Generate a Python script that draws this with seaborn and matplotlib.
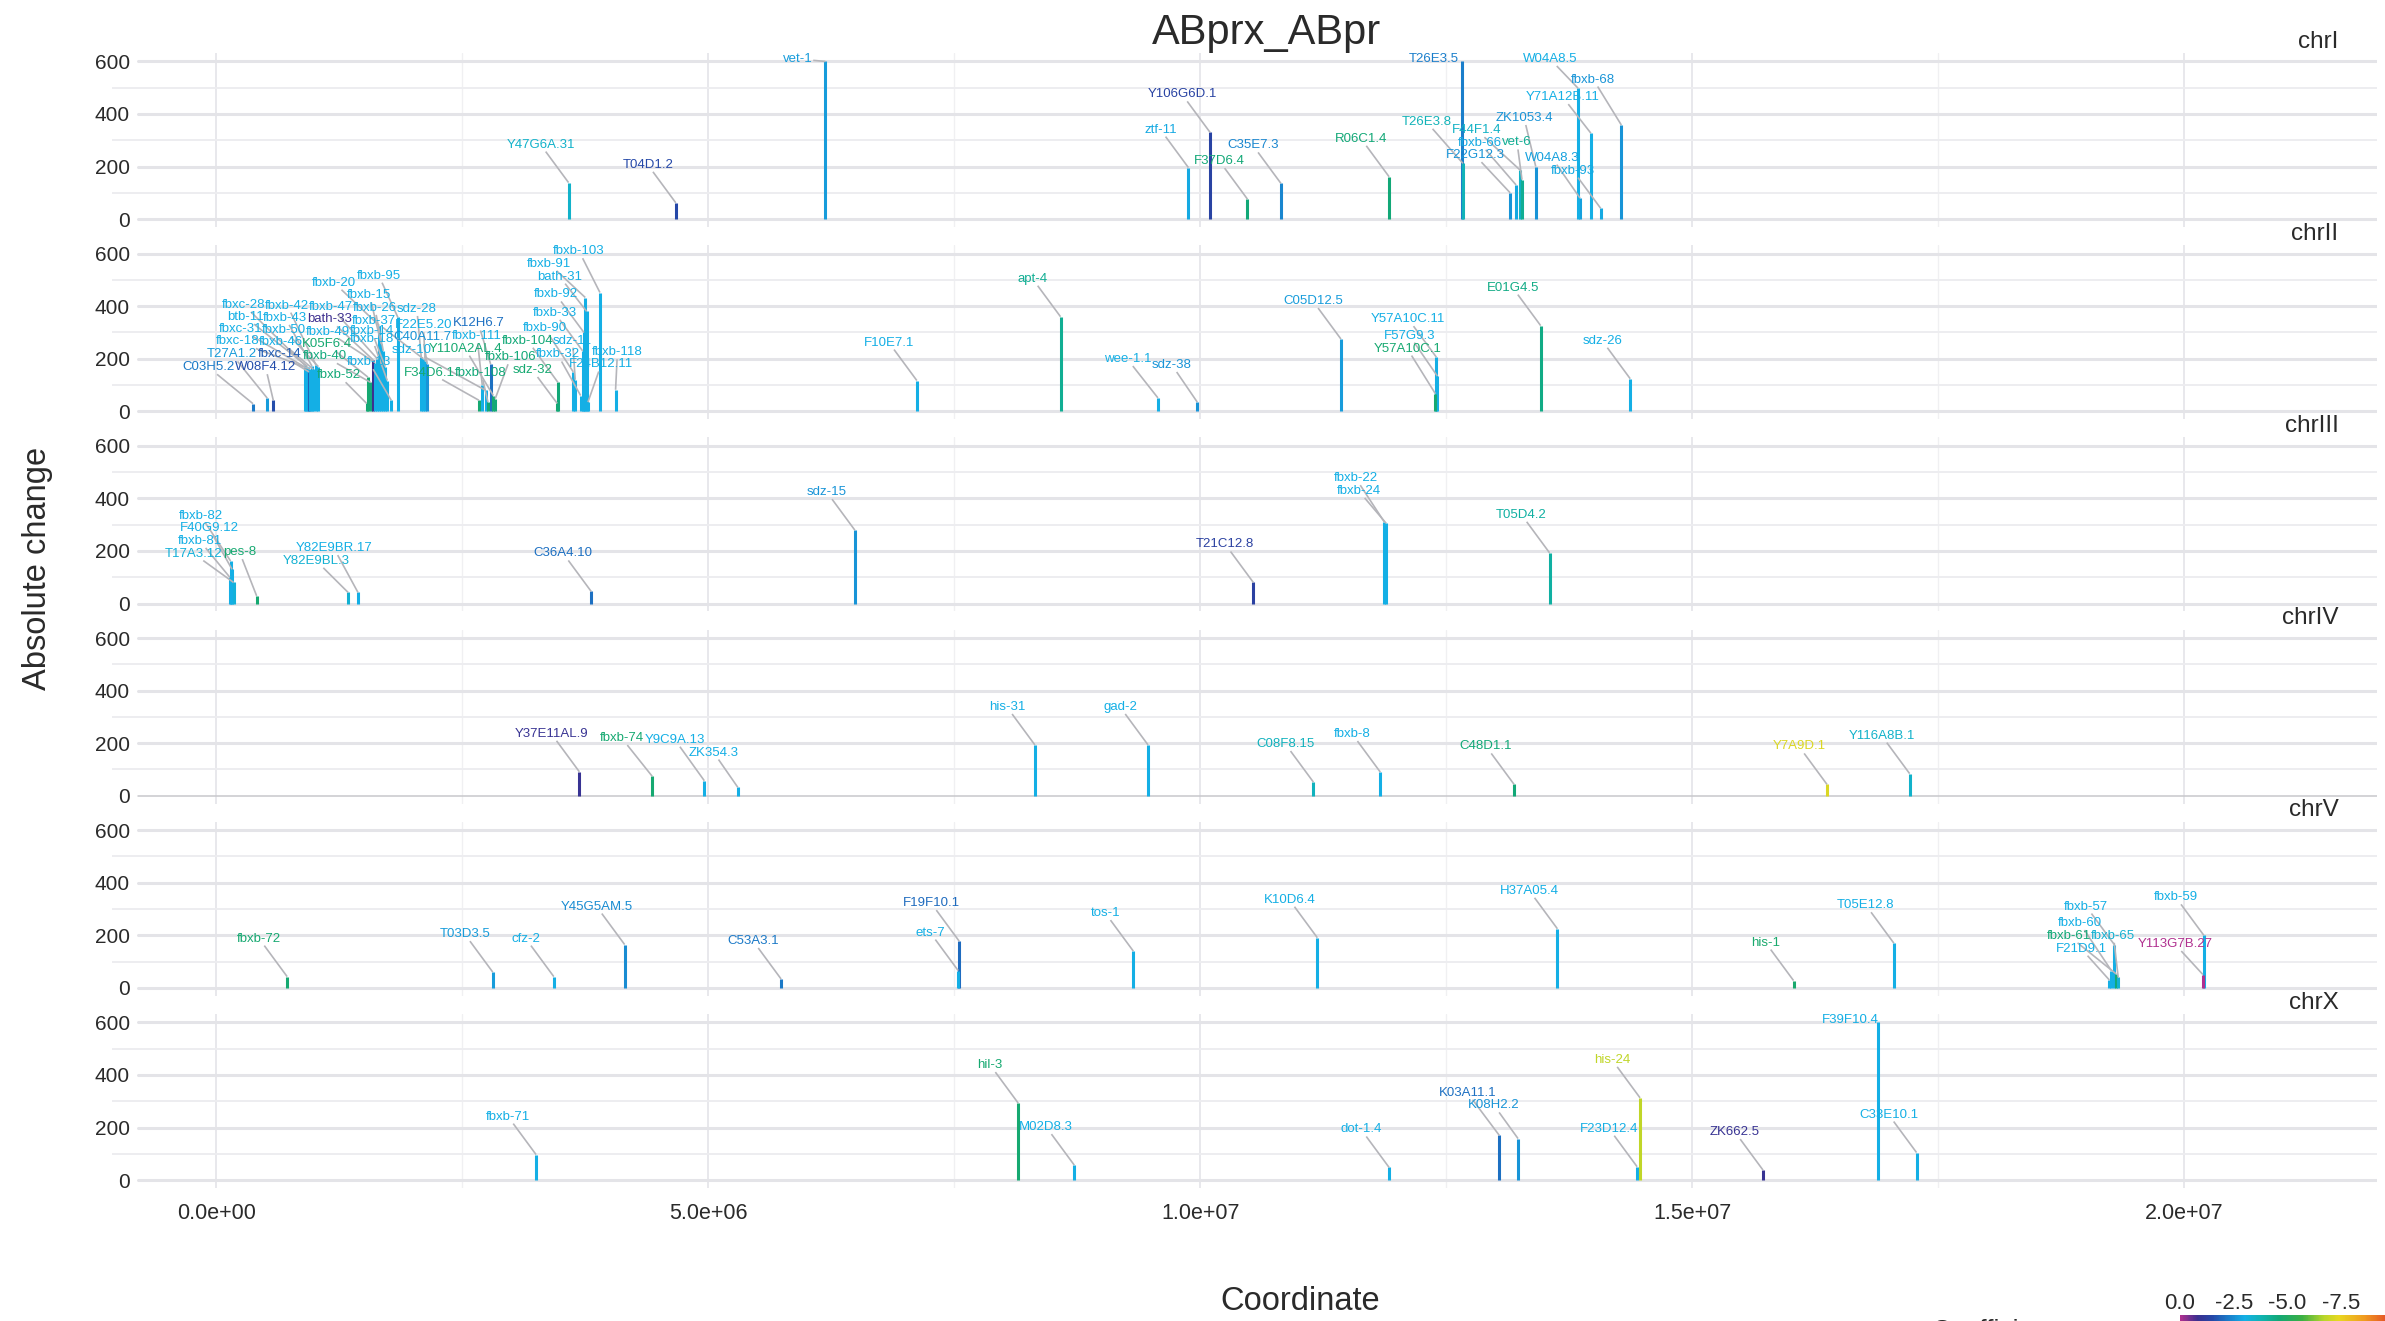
import numpy as np
import pandas as pd
import matplotlib
matplotlib.use("Agg")
import matplotlib.pyplot as plt
import seaborn as sns
from matplotlib.colors import LinearSegmentedColormap, Normalize
from matplotlib.cm import ScalarMappable

sns.set_theme(style="white")
plt.rcParams["font.family"] = ["Liberation Sans", "DejaVu Sans"]
plt.rcParams["axes.unicode_minus"] = False

chromosomes = ["chrI", "chrII", "chrIII", "chrIV", "chrV", "chrX"]

# ---- data (coordinate in Mb, absolute change, coefficient) ----
chrI_gene = ["Y47G6A.31", "T04D1.2", "vet-1", "ztf-11", "Y106G6D.1", "F37D6.4", "C35E7.3",
             "R06C1.4", "T26E3.5", "T26E3.8", "F22G12.3", "fbxb-66", "F44F1.4", "vet-6",
             "ZK1053.4", "W04A8.3", "W04A8.5", "Y71A12B.11", "fbxb-93", "fbxb-68"]
chrI_pos = [3.58, 4.67, 6.19, 9.88, 10.10, 10.48, 10.82, 11.92, 12.66, 12.67, 13.15, 13.21,
            13.25, 13.27, 13.41, 13.86, 13.84, 13.97, 14.07, 14.28]
chrI_change = [139, 62, 600, 196, 330, 76, 136, 161, 600, 212, 100, 130, 187, 150, 200, 80,
               498, 327, 41, 358]
chrI_coef = [-3.4, -1.5, -2.7, -2.9, -1.4, -4.6, -2.4, -4.6, -2.3, -3.7, -2.6, -2.9, -3.5,
             -4.2, -2.6, -2.8, -3.0, -3.0, -2.9, -2.6]

chrII_gene = ["C03H5.2", "T27A1.2", "W08F4.12", "fbxc-28", "fbxc-31", "btb-11", "fbxc-14",
              "fbxc-18", "fbxb-43", "fbxb-46", "fbxb-42", "fbxb-50", "fbxb-52", "K05F6.4",
              "fbxb-40", "bath-33", "fbxb-49", "fbxb-47", "fbxb-20", "fbxb-15", "fbxb-26",
              "fbxb-14", "fbxb-18", "fbxb-13", "fbxb-95", "sdz-28", "fbxb-37", "F22E5.20",
              "C40A11.7", "F34D6.1", "fbxb-111", "sdz-10", "fbxb-108", "K12H6.7",
              "Y110A2AL.4", "fbxb-106", "sdz-32", "fbxb-104", "fbxb-90", "sdz-11", "fbxb-32",
              "fbxb-33", "fbxb-92", "fbxb-91", "bath-31", "F24B12.11", "fbxb-103", "fbxb-118",
              "F10E7.1", "apt-4", "wee-1.1", "sdz-38", "C05D12.5", "Y57A10C.11", "F57G9.3",
              "Y57A10C.1", "E01G4.5", "sdz-26"]
chrII_pos = [0.373, 0.518, 0.579, 0.901, 0.915, 0.928, 0.942, 0.955, 0.972, 0.986, 1.013,
             1.037, 1.528, 1.541, 1.568, 1.596, 1.616, 1.636, 1.657, 1.677, 1.697, 1.717,
             1.738, 1.778, 1.846, 2.083, 2.104, 2.124, 2.144, 2.669, 2.703, 2.737, 2.761,
             2.788, 2.815, 2.835, 3.465, 3.472, 3.628, 3.648, 3.703, 3.723, 3.736, 3.750,
             3.764, 3.777, 3.899, 4.058, 7.12, 8.58, 9.57, 9.97, 11.43, 12.40, 12.41, 12.39,
             13.46, 14.37]
chrII_change = [29, 50, 42, 175, 165, 170, 150, 160, 172, 160, 176, 170, 30, 130, 110, 195,
                185, 200, 326, 256, 230, 170, 117, 42, 357, 206, 200, 190, 180, 42, 100, 80,
                35, 180, 60, 48, 30, 110, 150, 120, 60, 230, 300, 433, 380, 35, 452, 82, 117,
                360, 51, 35, 275, 206, 134, 67, 326, 124]
chrII_coef = [-2.2, -2.7, -1.6, -3.0, -3.0, -3.0, -1.8, -3.0, -3.0, -3.0, -3.0, -3.0, -4.6,
              -4.7, -4.5, -0.8, -3.0, -3.0, -3.0, -3.0, -3.0, -3.0, -3.0, -3.0, -3.0, -3.0,
              -3.0, -3.0, -2.6, -4.7, -3.0, -3.0, -4.6, -2.1, -4.7, -4.6, -4.7, -4.6, -3.0,
              -3.0, -3.0, -3.0, -3.0, -3.0, -3.0, -3.0, -3.0, -3.0, -3.0, -4.2, -3.0, -2.6,
              -2.7, -3.0, -3.0, -4.7, -4.4, -3.0]

chrIII_gene = ["fbxb-81", "fbxb-82", "F40G9.12", "T17A3.12", "pes-8", "Y82E9BL.3",
               "Y82E9BR.17", "C36A4.10", "sdz-15", "T21C12.8", "fbxb-22", "fbxb-24", "T05D4.2"]
chrIII_pos = [0.137, 0.145, 0.160, 0.176, 0.41, 1.34, 1.44, 3.81, 6.49, 10.54, 11.87, 11.89,
              13.55]
chrIII_change = [100, 162, 130, 80, 29, 42, 42, 46, 279, 80, 311, 305, 193]
chrIII_coef = [-3.0, -3.0, -3.0, -3.2, -4.7, -3.3, -3.0, -2.1, -2.6, -1.3, -3.0, -3.0, -4.0]

chrIV_gene = ["Y37E11AL.9", "fbxb-74", "Y9C9A.13", "ZK354.3", "his-31", "gad-2", "C08F8.15",
              "fbxb-8", "C48D1.1", "Y7A9D.1", "Y116A8B.1"]
chrIV_pos = [3.69, 4.43, 4.96, 5.30, 8.32, 9.47, 11.15, 11.83, 13.19, 16.37, 17.21]
chrIV_change = [91, 74, 57, 32, 193, 193, 52, 90, 43, 43, 84]
chrIV_coef = [-0.9, -4.7, -3.0, -3.0, -3.0, -3.0, -3.6, -3.0, -4.6, -7.2, -3.4]

chrV_gene = ["fbxb-72", "T03D3.5", "cfz-2", "Y45G5AM.5", "C53A3.1", "F19F10.1", "ets-7",
             "tos-1", "K10D6.4", "H37A05.4", "his-1", "T05E12.8", "F21D9.1", "fbxb-60",
             "fbxb-57", "fbxb-61", "fbxb-65", "fbxb-59", "Y113G7B.27"]
chrV_pos = [0.72, 2.81, 3.43, 4.15, 5.74, 7.55, 7.54, 9.32, 11.19, 13.63, 16.03, 17.05, 19.24,
            19.26, 19.29, 19.31, 19.33, 20.20, 20.19]
chrV_change = [43, 60, 43, 165, 34, 178, 66, 140, 191, 225, 28, 170, 30, 66, 165, 53, 40,
               200, 51]
chrV_coef = [-4.7, -2.7, -3.0, -2.5, -2.2, -2.0, -3.0, -3.0, -3.0, -3.0, -4.8, -3.0, -3.0,
             -3.0, -3.0, -4.6, -3.3, -3.0, 0.0]

chrX_gene = ["fbxb-71", "hil-3", "M02D8.3", "dot-1.4", "K03A11.1", "K08H2.2", "F23D12.4",
             "his-24", "ZK662.5", "F39F10.4", "C33E10.1"]
chrX_pos = [3.25, 8.15, 8.72, 11.92, 13.04, 13.23, 14.44, 14.47, 15.72, 16.89, 17.28]
chrX_change = [97, 293, 57, 48, 170, 158, 51, 313, 38, 600, 105]
chrX_coef = [-3.0, -4.7, -3.0, -3.0, -2.1, -2.6, -3.0, -6.8, -0.9, -3.0, -3.0]

tables = {
    "chrI": (chrI_gene, chrI_pos, chrI_change, chrI_coef),
    "chrII": (chrII_gene, chrII_pos, chrII_change, chrII_coef),
    "chrIII": (chrIII_gene, chrIII_pos, chrIII_change, chrIII_coef),
    "chrIV": (chrIV_gene, chrIV_pos, chrIV_change, chrIV_coef),
    "chrV": (chrV_gene, chrV_pos, chrV_change, chrV_coef),
    "chrX": (chrX_gene, chrX_pos, chrX_change, chrX_coef),
}
frames = []
for chrom, (g_, p_, c_, k_) in tables.items():
    frames.append(pd.DataFrame({"chrom": chrom, "gene": g_, "coord": np.array(p_) * 1e6,
                                "change": c_, "coef": k_}))
df = pd.concat(frames, ignore_index=True)

# colour scale for the coefficient
stop_vals = [-10.0, -8.6, -7.4, -6.7, -5.7, -4.6, -3.8, -3.0, -2.3, -1.5, -0.8, 0.0]
stop_cols = ["#e03a2a", "#f09a20", "#e8d820", "#b8d62a", "#3cb043", "#12a876", "#10b3b0",
             "#14b0e6", "#1a80cc", "#2548a8", "#3b2f8f", "#b0308f"]
norm = Normalize(-10.0, 0.0)
cmap = LinearSegmentedColormap.from_list(
    "coef", [((v + 10.0) / 10.0, c) for v, c in zip(stop_vals, stop_cols)])

label_store = {}


def draw_chrom(data, **kws):
    ax = plt.gca()
    cols = cmap(norm(data["coef"].to_numpy()))
    ax.vlines(data["coord"], 0, data["change"], colors=cols, lw=2.2, zorder=3)
    texts = []
    for gname, x, y, c in zip(data["gene"], data["coord"], data["change"], cols):
        texts.append(ax.text(x, y, gname, color=c, fontsize=9.5, ha="center", va="center",
                             zorder=6))
    label_store[ax] = (data["coord"].to_numpy(), data["change"].to_numpy(), texts)


g = sns.FacetGrid(df, row="chrom", row_order=chromosomes, sharex=True, sharey=True,
                  height=2, aspect=11)
g.map_dataframe(draw_chrom)
g.set_titles(template="")
g.set_axis_labels("", "")

fig = g.figure
fig.set_size_inches(23.85, 13.21)
W, H = 2385.0, 1321.0
for i, (chrom, ax) in enumerate(zip(chromosomes, g.axes.flat)):
    top = 53 + 192.2 * i
    ax.set_position([112 / W, 1 - (top + 174) / H, 2265 / W, 174 / H])
    ax.set_xlim(-1.06e6, 21.96e6)
    ax.set_ylim(-30, 632)
    ax.set_autoscale_on(False)
    for s in ax.spines.values():
        s.set_visible(False)
    ax.grid(False)
    for xv in [2.5e6, 7.5e6, 12.5e6, 17.5e6]:
        ax.axvline(xv, color="#f0f0f2", lw=1.0, zorder=0)
    for xv in [0, 5e6, 1e7, 1.5e7, 2e7]:
        ax.axvline(xv, color="#e8e8ec", lw=1.4, zorder=0)
    for yv in [100, 300, 500]:
        ax.axhline(yv, color="#ededf0", lw=1.4, zorder=0)
    for yv in [0, 200, 400, 600]:
        if chrom == "chrIV" and yv == 0:
            ax.axhline(0, xmin=0.0115, color="#c8c8cc", lw=1.1, zorder=1)
        else:
            ax.axhline(yv, xmin=0.0115, color="#e4e4e8", lw=2.2, zorder=0)
    ax.set_yticks([0, 200, 400, 600])
    ax.set_yticklabels(["0", "200", "400", "600"])
    ax.tick_params(axis="y", length=0, pad=-13, labelsize=15, colors="#2a2a2a")
    ax.set_xticks([0, 5e6, 1e7, 1.5e7, 2e7])
    ax.set_xticklabels(["0.0e+00", "5.0e+06", "1.0e+07", "1.5e+07", "2.0e+07"])
    ax.tick_params(axis="x", length=0, pad=11, labelsize=15.5, colors="#2a2a2a")
    ax.set_facecolor("white")
    ax.text(0.983, 1.066, chrom, transform=ax.transAxes, ha="right", va="center",
            fontsize=17.5, color="#2a2a2a")

fig.text(1267 / W, 1 - 33 / H, "ABprx_ABpr", ha="center", va="center", fontsize=30,
         color="#2a2a2a")
fig.text(1300 / W, 1 - 1302 / H, "Coordinate", ha="center", va="center", fontsize=23.5,
         color="#2a2a2a")
fig.text(38 / W, 1 - 568 / H, "Absolute change", ha="center", va="center", fontsize=23.5,
         rotation=90, color="#2a2a2a")

# colour bar, mostly cut off by the figure edge as in the original
cax = fig.add_axes([2180 / W, (1321 - 1315 - 30) / H, 215 / W, 30 / H])
cbar = fig.colorbar(ScalarMappable(norm=norm, cmap=cmap), cax=cax, orientation="horizontal")
cbar.outline.set_visible(False)
cax.invert_xaxis()
cbar.set_ticks([0.0, -2.5, -5.0, -7.5])
cbar.set_ticklabels(["0.0", "-2.5", "-5.0", "-7.5"])
cax.xaxis.set_ticks_position("top")
cax.tick_params(axis="x", length=0, pad=1, labelsize=16, colors="#2a2a2a")
fig.text(1994 / W, 1 - 1319 / H, "Coefficient", ha="center", va="top", fontsize=19,
         color="#2a2a2a")

# simple label repulsion in pixel space (ggrepel-like)
fig.canvas.draw()
renderer = fig.canvas.get_renderer()


def repel(ax, xs, ys, texts):
    pts = ax.transData.transform(np.column_stack([xs, ys]))
    sizes = np.array([[t.get_window_extent(renderer).width,
                       t.get_window_extent(renderer).height] for t in texts])
    half = sizes / 2.0
    box = ax.get_window_extent(renderer)
    target = pts + np.array([-28.0, 38.0])
    pos = target.copy()
    n = len(pos)
    idx = np.arange(n)
    tie = np.where(idx[:, None] > idx[None, :], 1.0, -1.0)
    same = idx[:, None] == idx[None, :]
    for _ in range(1200):
        dx = pos[:, None, 0] - pos[None, :, 0]
        dy = pos[:, None, 1] - pos[None, :, 1]
        ox = half[:, None, 0] + half[None, :, 0] + 1 - np.abs(dx)
        oy = half[:, None, 1] + half[None, :, 1] + 1 - np.abs(dy)
        hit = (ox > 0) & (oy > 0) & ~same
        dist = np.hypot(dx, dy * 2.5)
        ok = dist > 1e-6
        ux = np.where(ok, dx / np.where(ok, dist, 1), 0.3 * tie)
        uy = np.where(ok, dy * 2.5 / np.where(ok, dist, 1), tie)
        mag = np.minimum(ox, oy)
        mx = np.where(hit, ux * mag, 0).sum(1)
        my = np.where(hit, uy * mag, 0).sum(1)
        px = pos[:, None, 0] - pts[None, :, 0]
        py = pos[:, None, 1] - pts[None, :, 1]
        pox = half[:, None, 0] + 3 - np.abs(px)
        poy = half[:, None, 1] + 3 - np.abs(py)
        phit = (pox > 0) & (poy > 0)
        my += np.where(phit, np.where(py >= 0, 1.0, -1.0) * poy, 0).sum(1)
        pos[:, 0] += 0.2 * mx + 0.008 * (target[:, 0] - pos[:, 0])
        pos[:, 1] += 0.2 * my + 0.008 * (target[:, 1] - pos[:, 1])
        pos[:, 0] = np.clip(pos[:, 0], box.x0 + half[:, 0], box.x1 - half[:, 0])
        pos[:, 1] = np.clip(pos[:, 1], box.y0 + half[:, 1], box.y1 - half[:, 1])
    return pts, pos, half


for ax, (xs, ys, texts) in label_store.items():
    pts, pos, half = repel(ax, xs, ys, texts)
    inv = ax.transData.inverted()
    for t, p, pt, h in zip(texts, pos, pts, half):
        t.set_position(inv.transform(p))
        v = p - pt
        ratios = []
        if abs(v[0]) > 1e-6:
            ratios.append((h[0] + 1) / abs(v[0]))
        if abs(v[1]) > 1e-6:
            ratios.append((h[1] + 1) / abs(v[1]))
        if not ratios:
            continue
        t_enter = 1 - min(ratios)
        if t_enter <= 0:
            continue
        end = pt + t_enter * v
        if np.hypot(*(end - pt)) < 5:
            continue
        seg = inv.transform(np.vstack([pt, end]))
        ax.plot(seg[:, 0], seg[:, 1], color="#b5b5ba", lw=1.2, zorder=4,
                solid_capstyle="butt")

fig.savefig("out.png", dpi=100)
